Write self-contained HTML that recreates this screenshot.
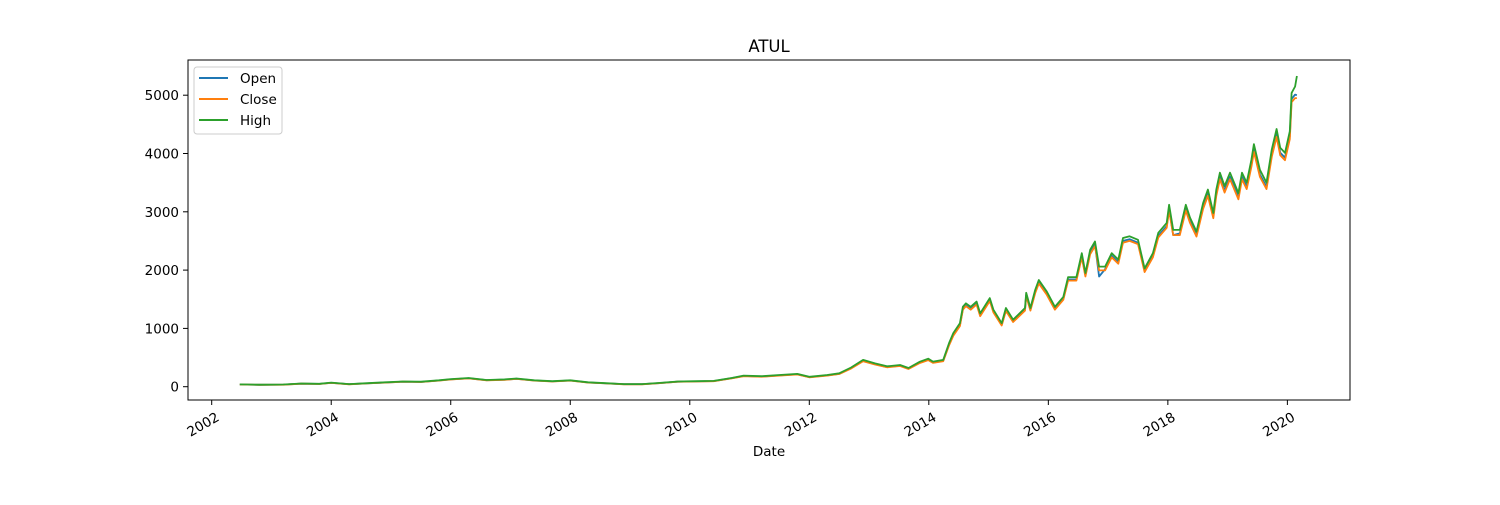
<!DOCTYPE html>
<html><head><meta charset="utf-8"><style>
body{margin:0;background:#fff;font-family:"Liberation Sans","DejaVu Sans",sans-serif}
</style></head><body>
<svg id="chart" width="1500" height="500" xmlns="http://www.w3.org/2000/svg" style="font-family:'DejaVu Sans','Liberation Sans',sans-serif">
<rect width="1500" height="500" fill="#fff"/>
<text x="769" y="52" font-size="16.5" text-anchor="middle">ATUL</text>
<g id="plot"></g>
<rect x="188" y="60" width="1162" height="340" fill="none" stroke="#000" stroke-width="1"/>
<g id="axes"></g>
<text x="769" y="456" font-size="13.5" text-anchor="middle">Date</text>
<g>
<rect x="194" y="67" width="88" height="67" rx="3" fill="#fff" stroke="#ccc"/>
<line x1="199" y1="78" x2="228" y2="78" stroke="#1f77b4" stroke-width="2"/>
<text x="240" y="83" font-size="13.5">Open</text>
<line x1="199" y1="99" x2="228" y2="99" stroke="#ff7f0e" stroke-width="2"/>
<text x="240" y="104" font-size="13.5">Close</text>
<line x1="199" y1="120" x2="228" y2="120" stroke="#2ca02c" stroke-width="2"/>
<text x="240" y="125" font-size="13.5">High</text>
</g>
</svg>
<script>
const dates=[2002.47,2002.8,2003.2,2003.5,2003.8,2004.0,2004.3,2004.6,2004.9,2005.2,2005.5,2005.8,2006.0,2006.3,2006.6,2006.9,2007.1,2007.4,2007.7,2008.0,2008.3,2008.6,2008.9,2009.2,2009.5,2009.8,2010.1,2010.4,2010.7,2010.9,2011.2,2011.5,2011.8,2012.0,2012.3,2012.5,2012.7,2012.9,2013.1,2013.3,2013.52,2013.66,2013.85,2013.99,2014.07,2014.24,2014.34,2014.41,2014.52,2014.57,2014.62,2014.70,2014.80,2014.86,2015.02,2015.08,2015.22,2015.29,2015.41,2015.61,2015.63,2015.70,2015.78,2015.84,2015.97,2016.11,2016.25,2016.33,2016.39,2016.47,2016.56,2016.62,2016.70,2016.78,2016.85,2016.95,2017.06,2017.17,2017.25,2017.36,2017.50,2017.61,2017.75,2017.84,2017.98,2018.02,2018.09,2018.20,2018.30,2018.37,2018.48,2018.59,2018.67,2018.76,2018.81,2018.87,2018.95,2019.04,2019.18,2019.24,2019.32,2019.40,2019.44,2019.54,2019.65,2019.74,2019.82,2019.88,2019.96,2020.04,2020.07,2020.13,2020.16];
const highVals=[40,35,38,55,50,70,45,60,75,90,85,110,130,150,115,125,140,110,95,110,75,60,45,45,65,90,95,100,150,190,180,200,220,170,200,230,330,460,400,350,373,320,428,480,430,460,750,920,1090,1372,1430,1370,1460,1258,1520,1320,1090,1350,1150,1350,1610,1350,1660,1830,1640,1370,1540,1880,1880,1880,2290,1950,2350,2490,2060,2060,2290,2180,2550,2580,2520,2030,2290,2640,2810,3120,2690,2690,3120,2900,2660,3150,3380,2980,3380,3670,3440,3670,3320,3670,3500,3900,4160,3720,3500,4070,4420,4100,4010,4380,5040,5150,5330];
const closeVals=[37,32,35,51,47,65,42,56,70,85,80,104,123,142,109,118,133,104,90,104,71,56,42,42,61,85,90,95,142,180,171,190,209,161,190,218,313,437,380,332,355,304,407,456,408,437,712,875,1040,1320,1380,1320,1410,1210,1470,1275,1050,1300,1110,1305,1555,1305,1605,1770,1585,1320,1490,1820,1820,1820,2220,1890,2275,2410,1995,1995,2220,2110,2470,2500,2445,1965,2220,2560,2725,3020,2600,2600,3020,2810,2575,3050,3275,2890,3275,3560,3330,3560,3215,3560,3390,3780,4030,3600,3390,3945,4285,3970,3885,4245,4880,4950,4950];
const openVals=[38,33,36,52,48,66,43,57,71,86,81,106,125,144,111,120,135,106,91,106,72,57,43,43,62,86,91,96,145,183,174,193,212,164,193,221,318,443,386,337,360,309,413,462,414,443,722,887,1055,1335,1395,1335,1425,1225,1485,1290,1060,1315,1125,1320,1575,1320,1625,1790,1605,1335,1505,1840,1840,1840,2245,1910,2300,2440,1890,2015,2245,2135,2500,2530,2470,1990,2245,2590,2755,3055,2600,2630,3055,2840,2605,3085,3310,2930,3310,3600,3370,3600,3250,3600,3430,3820,4075,3640,3430,3990,4335,4015,3930,4290,4935,5010,5000];
const yTicks=[0,1000,2000,3000,4000,5000];
const xTicks=[2002,2004,2006,2008,2010,2012,2014,2016,2018,2020];
const X=v=>211.7+(v-2002)*59.76, Y=v=>386.7-v*0.0583;
const NS='http://www.w3.org/2000/svg';
const plot=document.getElementById('plot'), axes=document.getElementById('axes');
function series(vals,color,name){
  const p=document.createElementNS(NS,'path');
  
  
  p.setAttribute('d',vals.map((v,i)=>(i?'L':'M')+X(dates[i]).toFixed(1)+','+Y(v).toFixed(1)).join(''));
  p.setAttribute('fill','none');p.setAttribute('stroke',color);p.setAttribute('stroke-width','1.8');p.setAttribute('stroke-linejoin','round');
  plot.appendChild(p);
}
series(openVals,'#1f77b4','open-line');
series(closeVals,'#ff7f0e','close-line');
series(highVals,'#2ca02c','high-line');
yTicks.forEach(t=>{
  const y=Y(t);
  const l=document.createElementNS(NS,'line');
  
  
  l.setAttribute('x1',183);l.setAttribute('x2',188);l.setAttribute('y1',y);l.setAttribute('y2',y);l.setAttribute('stroke','#000');
  axes.appendChild(l);
  const tx=document.createElementNS(NS,'text');
  
  
  tx.setAttribute('x',179);tx.setAttribute('y',y+5);tx.setAttribute('font-size','13.5');tx.setAttribute('text-anchor','end');
  tx.textContent=t;axes.appendChild(tx);
});
xTicks.forEach(t=>{
  const x=X(t);
  const l=document.createElementNS(NS,'line');
  
  
  l.setAttribute('x1',x);l.setAttribute('x2',x);l.setAttribute('y1',400);l.setAttribute('y2',405);l.setAttribute('stroke','#000');
  axes.appendChild(l);
  const tx=document.createElementNS(NS,'text');
  
  
  tx.setAttribute('font-size','13.5');tx.setAttribute('text-anchor','end');
  tx.setAttribute('transform','translate('+(x+4)+',412) rotate(-30)');
  tx.setAttribute('y',9);
  tx.textContent=t;axes.appendChild(tx);
});
</script>
</body></html>
